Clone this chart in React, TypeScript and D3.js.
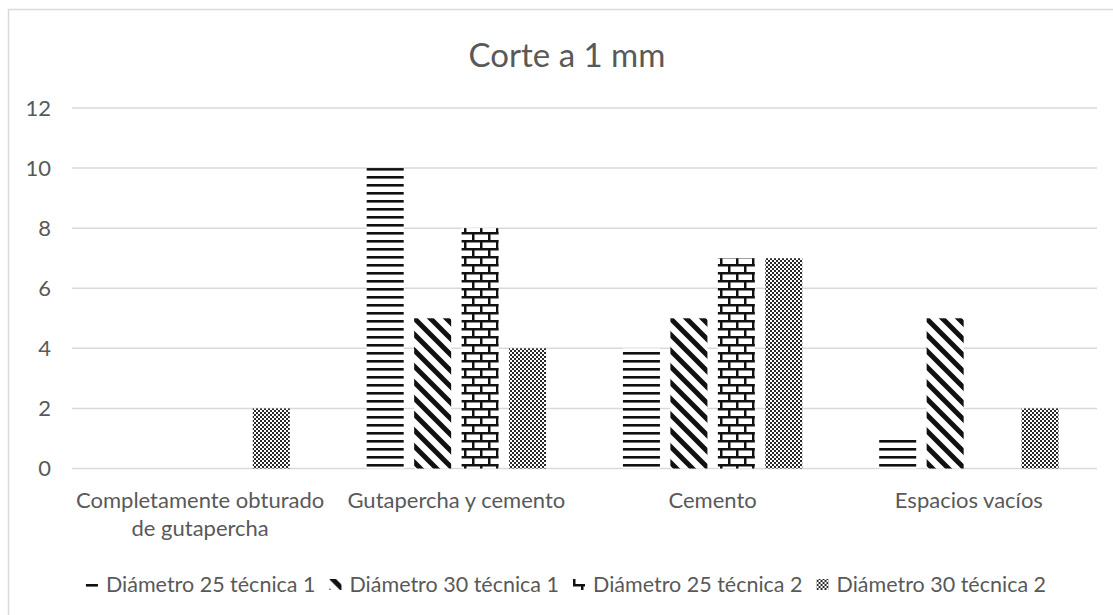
import React, { useRef, useEffect } from 'react';
import * as d3 from 'd3';

const title = "Corte a 1 mm";
const categories = [
  "Completamente obturado de gutapercha",
  "Gutapercha y cemento",
  "Cemento",
  "Espacios vacíos"
];
const seriesNames = [
  "Diámetro 25 técnica 1",
  "Diámetro 30 técnica 1",
  "Diámetro 25 técnica 2",
  "Diámetro 30 técnica 2"
];
const d25t1 = [0, 10, 4, 1];
const d30t1 = [0, 5, 5, 5];
const d25t2 = [0, 8, 7, 0];
const d30t2 = [2, 4, 7, 2];
const yTicks = [0, 2, 4, 6, 8, 10, 12];

const W = 1113;
const H = 615;
const FONT = "Lato, 'Open Sans', sans-serif";
const TEXT = "#595959";
const GRID = "#d9d9d9";

const App: React.FC = () => {
  const svgRef = useRef<SVGSVGElement>(null);

  useEffect(() => {
    if (!svgRef.current) return;
    const svg = d3.select(svgRef.current);
    svg.selectAll("*").remove();

    const series = [d25t1, d30t1, d25t2, d30t2];

    // patrones de relleno
    const defs = svg.append("defs");
    const p0 = defs.append("pattern").attr("id", "pat0").attr("patternUnits", "userSpaceOnUse")
      .attr("width", 8).attr("height", 8);
    p0.append("rect").attr("width", 8).attr("height", 8).attr("fill", "#fff");
    p0.append("rect").attr("y", 0).attr("width", 8).attr("height", 2.6).attr("fill", "#111");

    const p1 = defs.append("pattern").attr("id", "pat1").attr("patternUnits", "userSpaceOnUse")
      .attr("width", 16).attr("height", 16);
    p1.append("rect").attr("width", 16).attr("height", 16).attr("fill", "#fff");
    p1.append("path").attr("d", "M-4,-4L20,20M-4,12L4,20M12,-4L20,4")
      .attr("stroke", "#111").attr("stroke-width", 5);

    const p2 = defs.append("pattern").attr("id", "pat2").attr("patternUnits", "userSpaceOnUse")
      .attr("width", 16).attr("height", 16);
    p2.append("rect").attr("width", 16).attr("height", 16).attr("fill", "#fff");
    p2.append("rect").attr("y", 0).attr("width", 16).attr("height", 2.5).attr("fill", "#111");
    p2.append("rect").attr("y", 8).attr("width", 16).attr("height", 2.5).attr("fill", "#111");
    p2.append("rect").attr("x", 0).attr("y", 0).attr("width", 2.5).attr("height", 8).attr("fill", "#111");
    p2.append("rect").attr("x", 8).attr("y", 8).attr("width", 2.5).attr("height", 8).attr("fill", "#111");

    const p3 = defs.append("pattern").attr("id", "pat3").attr("patternUnits", "userSpaceOnUse")
      .attr("width", 4).attr("height", 4);
    p3.append("rect").attr("width", 4).attr("height", 4).attr("fill", "#fff");
    p3.append("rect").attr("x", 0).attr("y", 0).attr("width", 2).attr("height", 2).attr("fill", "#2a2a2a");
    p3.append("rect").attr("x", 2).attr("y", 2).attr("width", 2).attr("height", 2).attr("fill", "#2a2a2a");

    // marco
    svg.append("rect")
      .attr("x", 8.5).attr("y", 9.5)
      .attr("width", 1115).attr("height", 620)
      .attr("fill", "#fff").attr("stroke", GRID).attr("stroke-width", 1.5);

    svg.append("text")
      .attr("x", 567).attr("y", 67)
      .attr("text-anchor", "middle")
      .attr("font-family", FONT).attr("font-size", 33)
      .attr("fill", TEXT)
      .text(title);

    const x0 = d3.scaleBand<string>().domain(categories).range([72, 1097]).padding(0);
    const x1 = d3.scaleBand<number>().domain([0, 1, 2, 3])
      .range([0, x0.bandwidth()]).paddingInner(0.22).paddingOuter(0.81);
    const y = d3.scaleLinear().domain([0, 12]).range([468.5, 108]);

    const g = svg.append("g");
    g.selectAll("line.grid").data(yTicks).enter().append("line")
      .attr("x1", 72).attr("x2", 1097)
      .attr("y1", d => y(d)).attr("y2", d => y(d))
      .attr("stroke", GRID).attr("stroke-width", 1.5);

    g.selectAll("text.ytick").data(yTicks).enter().append("text")
      .attr("x", 51).attr("y", d => y(d)).attr("dy", "0.36em")
      .attr("text-anchor", "end")
      .attr("font-family", FONT).attr("font-size", 22)
      .attr("fill", TEXT)
      .text(d => String(d));

    series.forEach((vals, si) => {
      g.selectAll(`rect.s${si}`).data(vals).enter().append("rect")
        .attr("x", (_, i) => (x0(categories[i]) ?? 0) + (x1(si) ?? 0))
        .attr("y", d => y(d))
        .attr("width", x1.bandwidth())
        .attr("height", d => y(0) - y(d))
        .attr("fill", `url(#pat${si})`);
    });

    // etiquetas de categoría con ajuste de línea
    const wrapWidth = x0.step() * 1.05;
    categories.forEach(cat => {
      const cx = (x0(cat) ?? 0) + x0.bandwidth() / 2;
      const t = g.append("text")
        .attr("x", cx).attr("y", 508)
        .attr("text-anchor", "middle")
        .attr("font-family", FONT).attr("font-size", 22)
        .attr("fill", TEXT);
      const words = cat.split(" ");
      let line: string[] = [];
      let tspan = t.append("tspan").attr("x", cx).attr("dy", 0);
      words.forEach(w => {
        line.push(w);
        tspan.text(line.join(" "));
        if ((tspan.node() as SVGTextContentElement).getComputedTextLength() > wrapWidth && line.length > 1) {
          line.pop();
          tspan.text(line.join(" "));
          line = [w];
          tspan = t.append("tspan").attr("x", cx).attr("dy", 28).text(w);
        }
      });
    });

    // leyenda
    const lg = svg.append("g");
    const items: { g: d3.Selection<SVGGElement, unknown, null, undefined>; w: number }[] = [];
    seriesNames.forEach((name, si) => {
      const ig = lg.append("g");
      ig.append("rect").attr("x", 0).attr("y", 579).attr("width", 12).attr("height", 11)
        .attr("fill", `url(#pat${si})`);
      const tt = ig.append("text").attr("x", 20).attr("y", 592)
        .attr("font-family", FONT).attr("font-size", 21.5)
        .attr("fill", TEXT).text(name);
      const tw = (tt.node() as SVGTextContentElement).getComputedTextLength();
      items.push({ g: ig, w: 20 + tw });
    });
    const spacing = 14;
    const total = d3.sum(items, d => d.w) + spacing * (items.length - 1);
    let cursor = 566 - total / 2;
    items.forEach(it => {
      it.g.attr("transform", `translate(${cursor},0)`);
      cursor += it.w + spacing;
    });
  }, []);

  return (
    <svg
      ref={svgRef}
      width={W}
      height={H}
      style={{ position: 'fixed', left: 0, top: 0, background: '#fff' }}
    />
  );
};

export default App;
